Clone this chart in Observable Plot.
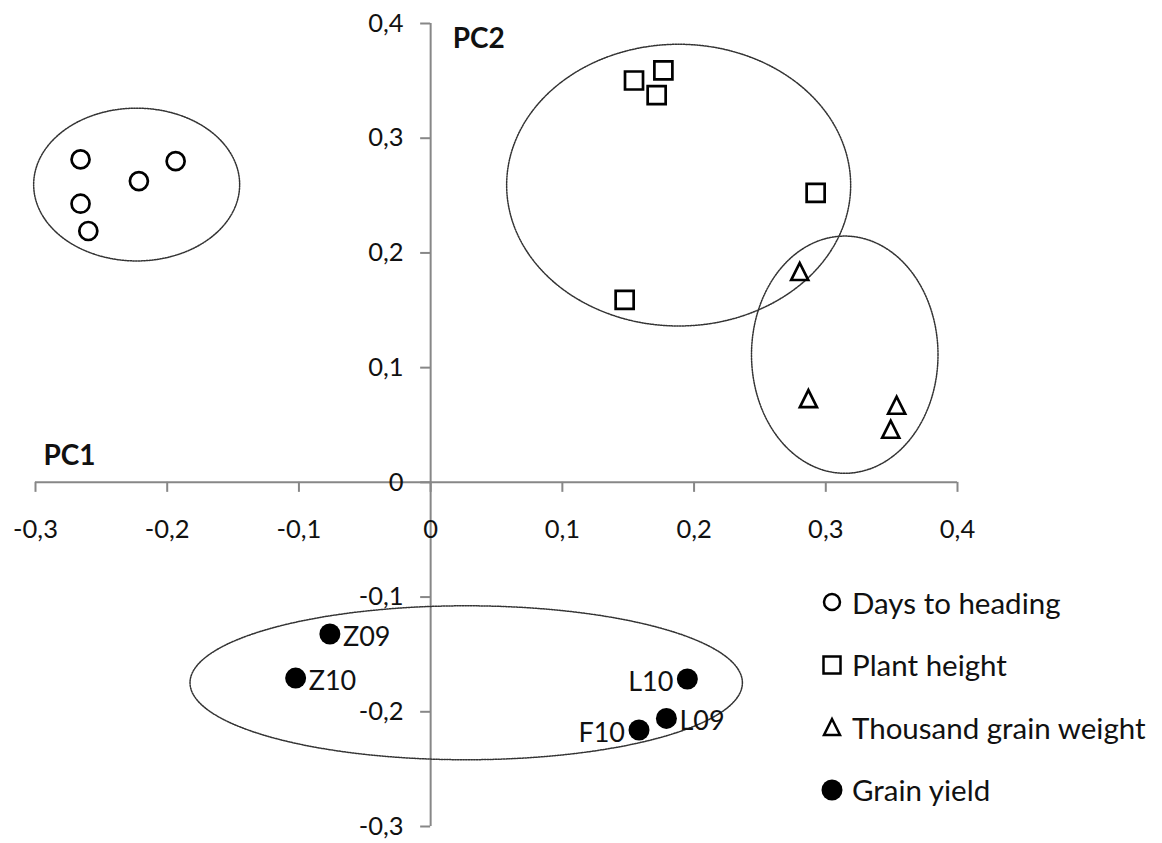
<!DOCTYPE html>
<html>
<head>
<meta charset="utf-8">
<script src="https://cdn.jsdelivr.net/npm/d3@7"></script>
<script src="https://cdn.jsdelivr.net/npm/@observablehq/plot@0.6"></script>
<style>
  html, body { margin: 0; padding: 0; background: #fff; }
  #wrap { position: relative; width: 1162px; height: 843px; font-family: Lato, sans-serif; }
  #legend { position: absolute; left: 820px; top: 571px; }
  .lrow { height: 62.5px; display: flex; align-items: center; font-size: 29.5px; color: #111; white-space: nowrap; }
  .lrow svg { margin-right: 8px; }
</style>
</head>
<body>
<div id="wrap"></div>
<script>
// ---- data ----
const groups = ["Days to heading", "Plant height", "Thousand grain weight", "Grain yield"];

const dthX = [-0.2658, -0.1936, -0.2215, -0.2658, -0.2599];
const dthY = [0.2815, 0.2800, 0.2626, 0.2429, 0.2191];

const phX = [0.1544, 0.1767, 0.1716, 0.2923, 0.1473];
const phY = [0.3503, 0.3591, 0.3376, 0.2524, 0.1590];

const tgwX = [0.2802, 0.2868, 0.3538, 0.3493];
const tgwY = [0.1838, 0.0730, 0.0672, 0.0463];

const gyLabels = ["Z09", "Z10", "L10", "L09", "F10"];
const gyX = [-0.0765, -0.1025, 0.1949, 0.1790, 0.1582];
const gyY = [-0.1322, -0.1706, -0.1714, -0.2058, -0.2159];
const gyLabelSide = ["right", "right", "left", "right", "left"];

// group ellipses: centre and radii in data units
const ellipseCX = [-0.2232, 0.1883, 0.3144, 0.0270];
const ellipseCY = [0.2596, 0.2591, 0.1113, -0.1747];
const ellipseRX = [0.0782, 0.1306, 0.0708, 0.2097];
const ellipseRY = [0.0666, 0.1228, 0.1034, 0.0671];

const xTicks = [-0.3, -0.2, -0.1, 0, 0.1, 0.2, 0.3, 0.4];
const xTickLabels = ["-0,3", "-0,2", "-0,1", "0", "0,1", "0,2", "0,3", "0,4"];
const yTicks = [-0.3, -0.2, -0.1, 0, 0.1, 0.2, 0.3, 0.4];
const yTickLabels = ["-0,3", "-0,2", "-0,1", "0", "0,1", "0,2", "0,3", "0,4"];

const axisNames = ["PC1", "PC2"];

// ---- build tables ----
const pts = (xs, ys) => xs.map((x, i) => ({x, y: ys[i]}));
const dth = pts(dthX, dthY);
const ph = pts(phX, phY);
const tgw = pts(tgwX, tgwY);
const gy = gyLabels.map((label, i) => ({label, x: gyX[i], y: gyY[i], side: gyLabelSide[i]}));

const ellipsePts = ellipseCX.flatMap((cx, i) =>
  d3.range(0, 240).map(k => {
    const t = k / 240 * 2 * Math.PI;
    return {e: i, x: cx + ellipseRX[i] * Math.cos(t), y: ellipseCY[i] + ellipseRY[i] * Math.sin(t)};
  })
);

// ---- custom symbols (box-centred like the original) ----
const squareSym = {draw(ctx, size) { const h = Math.sqrt(size / Math.PI);
  ctx.moveTo(-h, -h); ctx.lineTo(h, -h); ctx.lineTo(h, h); ctx.lineTo(-h, h); ctx.closePath(); }};
const triSym = {draw(ctx, size) { const h = Math.sqrt(size / Math.PI);
  ctx.moveTo(0, -h); ctx.lineTo(h, h); ctx.lineTo(-h, h); ctx.closePath(); }};

const axisGray = "#878787";
const xMin = d3.min(xTicks), xMax = d3.max(xTicks);
const yMin = d3.min(yTicks), yMax = d3.max(yTicks);

const chart = Plot.plot({
  width: 1162,
  height: 843,
  marginLeft: 35,
  marginRight: 205,
  marginTop: 23,
  marginBottom: 17,
  x: {domain: [xMin, xMax], axis: null},
  y: {domain: [yMin, yMax], axis: null},
  style: {fontFamily: "Lato, sans-serif", background: "#fff", color: "#111", overflow: "visible"},
  marks: [
    // axes through the origin
    Plot.ruleY([0], {x1: () => xMin, x2: () => xMax, stroke: axisGray, strokeWidth: 2}),
    Plot.ruleX([0], {y1: () => yMin, y2: () => yMax, stroke: axisGray, strokeWidth: 2}),
    Plot.ruleX(xTicks, {x: d => d, y1: () => 0, y2: () => 0, insetBottom: -10, stroke: axisGray, strokeWidth: 2}),
    Plot.ruleY(yTicks, {y: d => d, x1: () => 0, x2: () => 0, insetLeft: -10, stroke: axisGray, strokeWidth: 2}),
    Plot.text(xTicks, {x: d => d, y: () => 0, text: (d, i) => xTickLabels[i], dy: 47, fontSize: 25.5, fill: "#111"}),
    Plot.text(yTicks, {x: () => 0, y: d => d, text: (d, i) => yTickLabels[i], dx: -27, textAnchor: "end", fontSize: 25.5, fill: "#111"}),
    // axis names
    Plot.text([axisNames[0]], {x: () => xMin, y: () => 0, dx: 8, dy: -26, textAnchor: "start", fontSize: 28, fontWeight: "bold", fill: "#111"}),
    Plot.text([axisNames[1]], {x: () => 0, y: () => yMax, dx: 22, dy: 16, textAnchor: "start", fontSize: 28, fontWeight: "bold", fill: "#111"}),
    // group ellipses
    Plot.line(ellipsePts, {x: "x", y: "y", z: "e", curve: "linear-closed", stroke: "#333", strokeWidth: 1.5, strokeDasharray: "1.5 1.2"}),
    // points
    Plot.dot(dth, {x: "x", y: "y", r: 9, stroke: "#000", strokeWidth: 2.7, fill: "none"}),
    Plot.dot(ph, {x: "x", y: "y", r: 9, symbol: squareSym, stroke: "#000", strokeWidth: 2.7, fill: "none"}),
    Plot.dot(tgw, {x: "x", y: "y", r: 8.5, symbol: triSym, stroke: "#000", strokeWidth: 2.7, fill: "none"}),
    Plot.dot(gy, {x: "x", y: "y", r: 10.5, fill: "#000"}),
    Plot.text(gy.filter(d => d.side === "right"), {x: "x", y: "y", text: "label", textAnchor: "start", dx: 13, dy: 3, fontSize: 27, fill: "#111"}),
    Plot.text(gy.filter(d => d.side === "left"), {x: "x", y: "y", text: "label", textAnchor: "end", dx: -14, dy: 3, fontSize: 27, fill: "#111"})
  ]
});

const wrap = document.getElementById("wrap");
wrap.appendChild(chart);

// ---- legend (overlaid at right, as in the original) ----
const legendSyms = [
  {sym: d3.symbolCircle, r: 8, fill: "none", stroke: "#000"},
  {sym: squareSym, r: 8.5, fill: "none", stroke: "#000"},
  {sym: triSym, r: 8, fill: "none", stroke: "#000"},
  {sym: d3.symbolCircle, r: 10.5, fill: "#000", stroke: "none"}
];
const legend = d3.select(wrap).append("div").attr("id", "legend");
groups.forEach((g, i) => {
  const row = legend.append("div").attr("class", "lrow");
  const s = legendSyms[i];
  const p = d3.path();
  s.sym.draw(p, s.r * s.r * Math.PI);
  row.append("svg").attr("width", 24).attr("height", 24).attr("viewBox", "-12 -12 24 24")
    .append("path").attr("d", p.toString()).attr("fill", s.fill).attr("stroke", s.stroke).attr("stroke-width", 2.5);
  row.append("span").text(g);
});
</script>
</body>
</html>
